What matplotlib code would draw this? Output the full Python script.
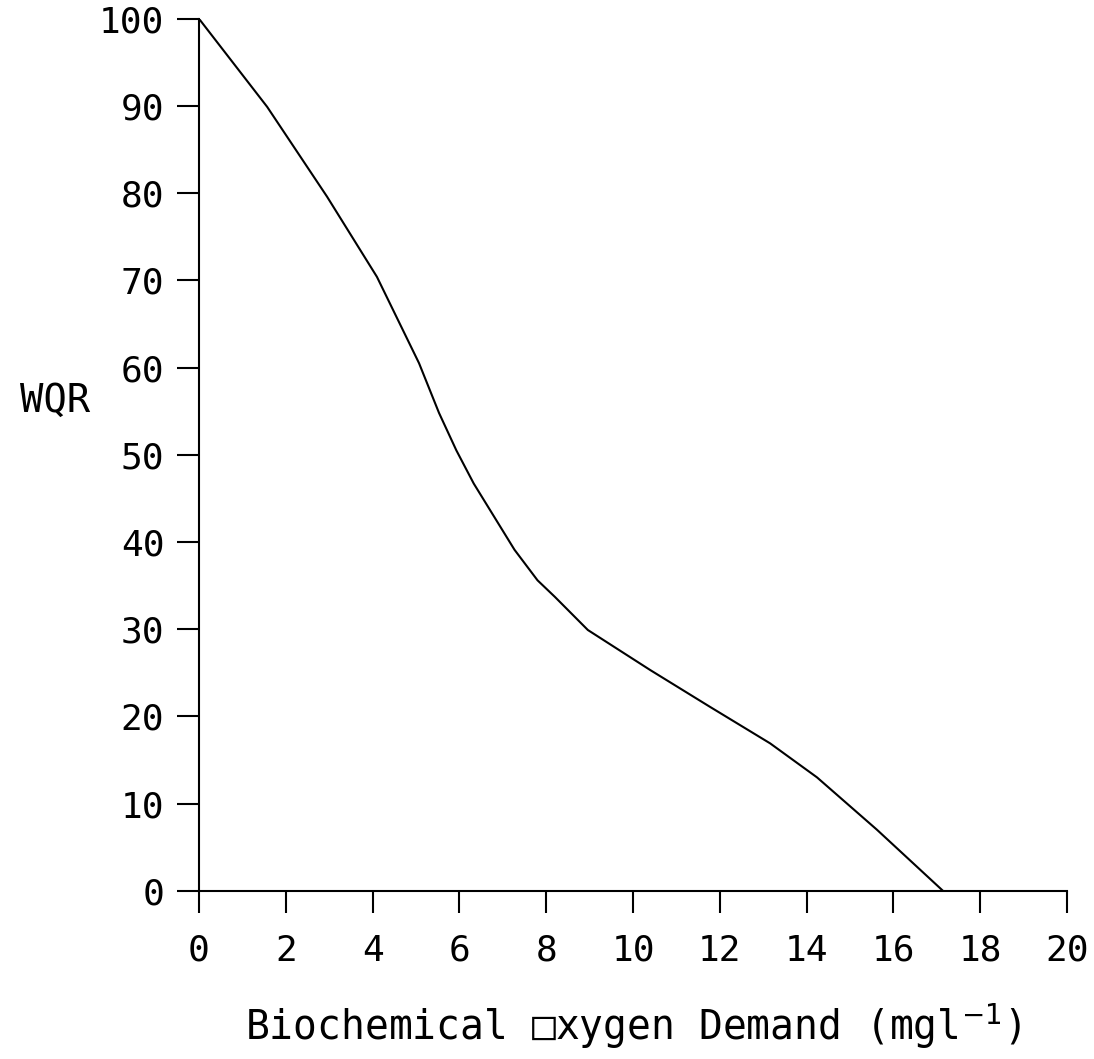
import matplotlib
matplotlib.use("Agg")
import matplotlib.pyplot as plt

# WQR rating curve for BOD
bod = [0, 1.57, 2.95, 4.1, 5.07, 5.53, 5.93, 6.33, 6.8, 7.27, 7.8, 8.2,
       8.96, 10.4, 11.77, 13.16, 14.24, 15.62, 17.14]
wqr = [100, 89.9, 79.6, 70.4, 60.5, 54.8, 50.5, 46.7, 42.9, 39.1, 35.6, 33.7,
       29.9, 25.3, 21.1, 16.9, 13.0, 7.0, 0]

xticks = list(range(0, 21, 2))
yticks = list(range(0, 101, 10))

plt.rcParams["font.family"] = ["DejaVu Sans Mono", "DejaVu Sans"]
plt.rcParams["mathtext.fontset"] = "dejavusans"

fig = plt.figure(figsize=(10.94, 10.59), dpi=100)
ax = fig.add_axes([0.1819, 0.1589, 0.7934, 0.8234])

ax.plot(bod, wqr, color="black", lw=1.5)

ax.set_xlim(0, 20)
ax.set_ylim(0, 100)
ax.set_xticks(xticks)
ax.set_yticks(yticks)
ax.set_xticklabels([str(t) for t in xticks])
ax.set_yticklabels([str(t) for t in yticks])

for side in ["top", "right"]:
    ax.spines[side].set_visible(False)
for side in ["left", "bottom"]:
    ax.spines[side].set_linewidth(1.5)

ax.tick_params(axis="both", direction="out", length=16, width=1.5,
               labelsize=26, colors="black")
ax.tick_params(axis="y", pad=9)
ax.tick_params(axis="x", pad=15)
ax.set_xlabel("Biochemical \u25a1xygen Demand (mgl$^{-1}$)", fontsize=28.5, labelpad=24)
ax.set_ylabel("WQR", fontsize=28, rotation=0, ha="center", va="center")
ax.yaxis.set_label_coords(-0.166, 0.5616)

fig.savefig("out.png", dpi=100, facecolor="white")
